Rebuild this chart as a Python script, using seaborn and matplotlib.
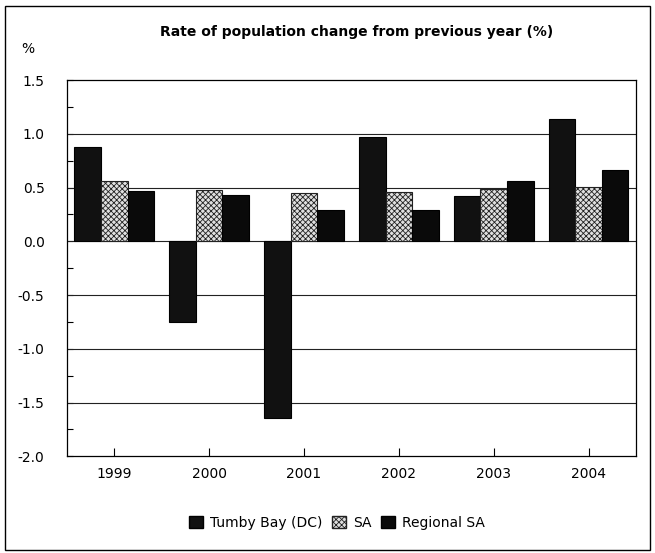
import matplotlib
matplotlib.use("Agg")
import matplotlib.pyplot as plt
import seaborn as sns
import pandas as pd
from matplotlib.patches import Rectangle, Patch

years = ["1999", "2000", "2001", "2002", "2003", "2004"]
series = ["Tumby Bay (DC)", "SA", "Regional SA"]
tumby = [0.88, -0.75, -1.64, 0.97, 0.42, 1.14]
sa = [0.56, 0.48, 0.45, 0.46, 0.49, 0.51]
regional = [0.47, 0.43, 0.29, 0.29, 0.56, 0.66]
yticks = [1.5, 1.0, 0.5, 0.0, -0.5, -1.0, -1.5, -2.0]

rows = []
for vals, name in zip([tumby, sa, regional], series):
    for y, v in zip(years, vals):
        rows.append({"Year": y, "Series": name, "Value": v})
df = pd.DataFrame(rows)

sns.set_style("white")
plt.rcParams['font.family'] = ['DejaVu Sans']
plt.rcParams['hatch.linewidth'] = 0.6
plt.rcParams['text.color'] = 'black'
plt.rcParams['xtick.color'] = 'black'
plt.rcParams['ytick.color'] = 'black'

fig = plt.figure(figsize=(6.55, 5.53), dpi=100)
ax = fig.add_axes([0.102, 0.175, 0.869, 0.68])

palette = {"Tumby Bay (DC)": "#111111", "SA": "white", "Regional SA": "#0a0a0a"}
sns.barplot(data=df, x="Year", y="Value", hue="Series", palette=palette,
            width=0.84, ax=ax, legend=False, saturation=1, edgecolor="black",
            linewidth=0.8, zorder=3)

for cont, name in zip(ax.containers, series):
    for p in cont:
        if name == "SA":
            p.set_hatch("xxxxxx")
            p.set_facecolor("#e0e0e0")
            p.set_edgecolor("#222222")

ax.set_ylim(-2.0, 1.5)
ax.set_yticks(yticks)
ax.set_yticklabels([f"{t:.1f}" for t in yticks], fontsize=10)
ax.set_yticks([v / 4 for v in range(-8, 6)], minor=True)
ax.tick_params(axis="y", which="both", direction="in", length=4, width=0.8, pad=16, left=True,
               colors="black", labelcolor="black")
ax.tick_params(axis="x", direction="in", length=6, width=0.8, bottom=True, labelsize=10, pad=8,
               colors="black", labelcolor="black")
for t in [1.0, 0.5, 0.0, -0.5, -1.0, -1.5]:
    ax.axhline(t, color="#222222", linewidth=0.8, zorder=1)
for s in ax.spines.values():
    s.set_color("black")
    s.set_linewidth(0.9)
ax.set_xlabel("")
ax.set_ylabel("")

fig.text(0.545, 0.943, "Rate of population change from previous year (%)",
         ha="center", va="center", fontsize=10, fontweight="bold", color="black")
fig.text(0.032, 0.912, "%", ha="left", va="center", fontsize=10, color="black")

handles = [Patch(facecolor="#111111", edgecolor="black"),
           Patch(facecolor="#e0e0e0", edgecolor="#222222", hatch="xxxxxx"),
           Patch(facecolor="#0a0a0a", edgecolor="black")]
fig.legend(handles, series, loc="center", bbox_to_anchor=(0.515, 0.055), ncol=3,
           frameon=False, fontsize=10, handlelength=1.0, handleheight=1.0,
           handletextpad=0.5, columnspacing=0.7, labelcolor="black")

fig.add_artist(Rectangle((0.008, 0.005), 0.984, 0.985, transform=fig.transFigure,
                         fill=False, edgecolor="black", linewidth=1.0))

fig.savefig("out.png", dpi=100)
